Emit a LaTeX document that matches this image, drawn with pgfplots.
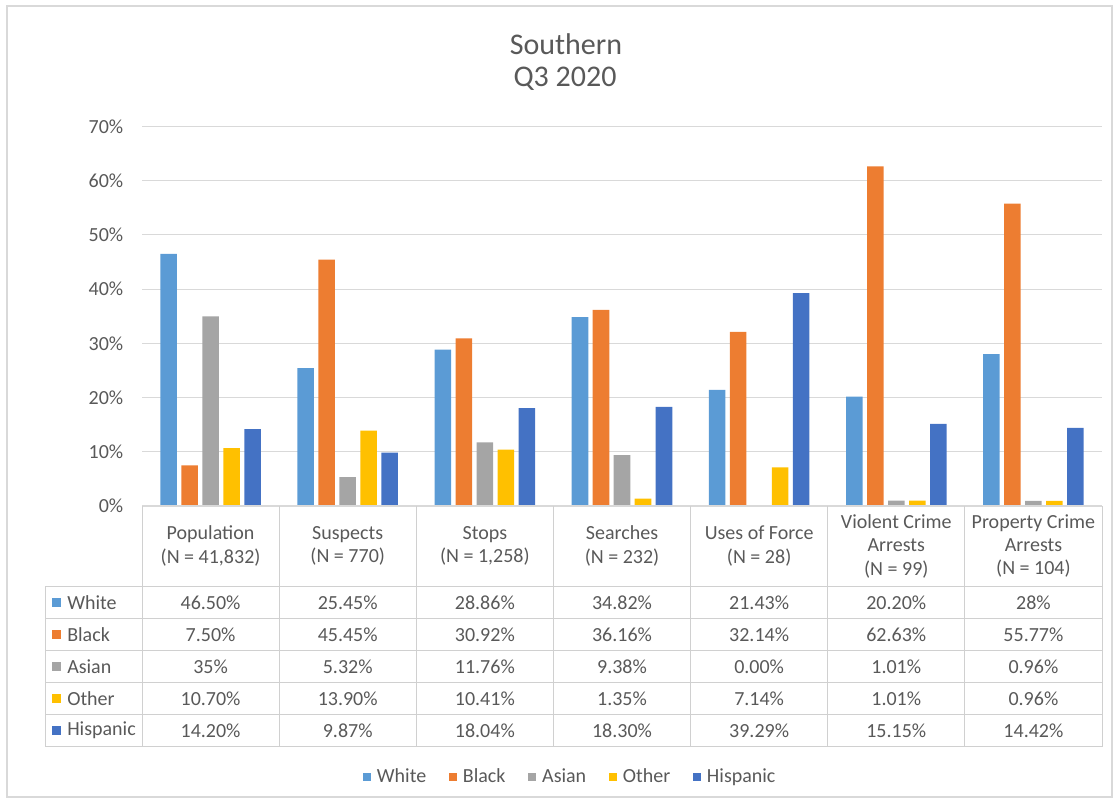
\documentclass[border=0pt]{standalone}
\usepackage{pgfplots}
\pgfplotsset{compat=1.18}
\usepackage{fontspec}
\setmainfont{Carlito}
\definecolor{cWhite}{HTML}{5B9BD5}
\definecolor{cBlack}{HTML}{ED7D31}
\definecolor{cAsian}{HTML}{A5A5A5}
\definecolor{cOther}{HTML}{FFC000}
\definecolor{cHisp}{HTML}{4472C4}
\definecolor{txt}{HTML}{595959}
\definecolor{gridc}{HTML}{D9D9D9}
\definecolor{tabc}{HTML}{D0D0D0}
\begin{document}
\begin{tikzpicture}
\begin{scope}[x=0.75pt,y=-0.75pt]
\useasboundingbox (0,0) rectangle (1118,803);
\draw[gridc,line width=0.8pt] (7,6) rectangle (1112,797);
\end{scope}
\begin{axis}[
  at={(106.5pt,-379.5pt)}, anchor=south west,
  width=720pt, height=284.6pt, scale only axis,
  xmin=-0.5, xmax=6.5, ymin=0, ymax=70,
  ytick={0,10,...,70}, xtick=\empty,
  yticklabel={\pgfmathparse{int(\tick)}\pgfmathresult\%},
  yticklabel style={font=\fontsize{15}{17}\selectfont, text=txt, xshift=-10.5pt},
  ymajorgrids, grid style={draw=gridc, line width=0.8pt},
  axis line style={draw=none}, tick style={draw=none},
  ybar=3.35pt, bar width=12.4pt,
  legend style={at={(0.4464,-0.714)}, anchor=center, draw=none, fill=none,
    legend columns=-1, font=\fontsize{15}{17}\selectfont, text=txt,
    /tikz/every odd column/.append style={column sep=2.5pt},
    /tikz/every even column/.append style={column sep=15pt},
    legend cell align=left},
  legend image code/.code={\fill[#1] (0pt,-3pt) rectangle (6pt,3pt);},
]
\addplot[fill=cWhite, draw=none] coordinates {(0,46.50) (1,25.45) (2,28.86) (3,34.82) (4,21.43) (5,20.20) (6,28.00)};
\addplot[fill=cBlack, draw=none] coordinates {(0,7.50) (1,45.45) (2,30.92) (3,36.16) (4,32.14) (5,62.63) (6,55.77)};
\addplot[fill=cAsian, draw=none] coordinates {(0,35.00) (1,5.32) (2,11.76) (3,9.38) (4,0.00) (5,1.01) (6,0.96)};
\addplot[fill=cOther, draw=none] coordinates {(0,10.70) (1,13.90) (2,10.41) (3,1.35) (4,7.14) (5,1.01) (6,0.96)};
\addplot[fill=cHisp, draw=none] coordinates {(0,14.20) (1,9.87) (2,18.04) (3,18.30) (4,39.29) (5,15.15) (6,14.42)};
\legend{White, Black, Asian, Other, Hispanic}
\end{axis}
\begin{scope}[x=0.75pt,y=-0.75pt, every node/.style={font=\fontsize{15}{17.6}\selectfont, text=txt, inner sep=0pt}]
% table lines
\draw[gridc, line width=0.8pt] (142,506) -- (1102,506);
\foreach \i in {0,...,7} {\draw[tabc, line width=0.7pt] ({142+137.143*\i},506) -- ({142+137.143*\i},746.5);}
\foreach \yy in {586.5,618.5,650.5,682.5,714.5,746.5} {\draw[tabc, line width=0.7pt] (45,\yy) -- (1102,\yy);}
\draw[tabc, line width=0.7pt] (45,586.5) -- (45,746.5);
% headers
\foreach \lab [count=\k from 0] in {{Population\\(N = 41,832)},{Suspects\\(N = 770)},{Stops\\(N = 1,258)},{Searches\\(N = 232)},{Uses of Force\\(N = 28)},{Violent Crime\\Arrests\\(N = 99)},{Property Crime\\Arrests\\(N = 104)}}
  {\node[align=center] at ({142+137.143*(\k+0.5)},546) {\lab};}
% row labels
\foreach \nm/\cc [count=\r from 0] in {White/cWhite,Black/cBlack,Asian/cAsian,Other/cOther,Hispanic/cHisp} {
  \fill[\cc] (52,{602.5+32*\r-4.5}) rectangle (61,{602.5+32*\r+4.5});
  \node[anchor=west] at (67,{602.5+32*\r}) {\nm};
}
% values
\foreach \vals [count=\r from 0] in {
  {46.50\%,25.45\%,28.86\%,34.82\%,21.43\%,20.20\%,28\%},
  {7.50\%,45.45\%,30.92\%,36.16\%,32.14\%,62.63\%,55.77\%},
  {35\%,5.32\%,11.76\%,9.38\%,0.00\%,1.01\%,0.96\%},
  {10.70\%,13.90\%,10.41\%,1.35\%,7.14\%,1.01\%,0.96\%},
  {14.20\%,9.87\%,18.04\%,18.30\%,39.29\%,15.15\%,14.42\%}} {
  \foreach \v [count=\k from 0] in \vals {
    \node at ({142+137.143*(\k+0.5)},{602.5+32*\r}) {\v};
  }
}
% title
\node[font=\fontsize{22.5}{26}\selectfont] at (566,44) {Southern};
\node[font=\fontsize{22.5}{26}\selectfont] at (565,79) {Q3 2020};
\end{scope}
\end{tikzpicture}
\end{document}
